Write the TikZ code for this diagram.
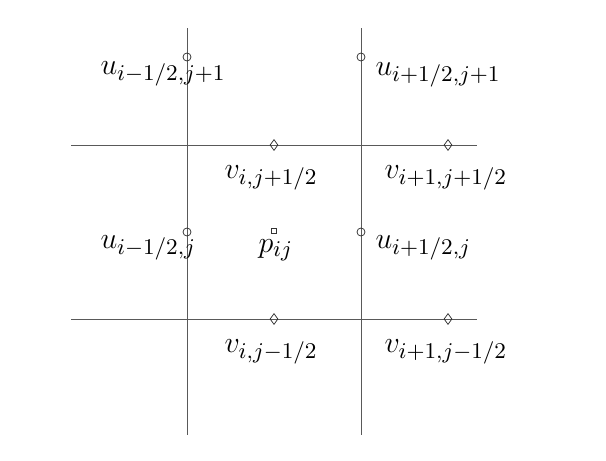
\documentclass[tikz,border=0pt]{standalone}
\usetikzlibrary{shapes.geometric}
\begin{document}
\begin{tikzpicture}[x=0.4pt,y=-0.4pt,
  gridline/.style={draw=black!65,line width=0.4pt},
  umark/.style={circle,draw=black!80,line width=0.3pt,inner sep=0pt,minimum size=3.2pt},
  vmark/.style={diamond,draw=black!80,line width=0.3pt,inner sep=0pt,minimum width=3.2pt,minimum height=4.4pt},
  pmark/.style={rectangle,draw=black!80,line width=0.3pt,inner sep=0pt,minimum size=2.2pt},
  lab/.style={anchor=base west,inner sep=0pt,font=\fontsize{13}{15}\selectfont}]
\useasboundingbox (0,0) rectangle (606,460);
% grid
\coordinate (v1t) at (187,28); \coordinate (v1b) at (187,435);
\coordinate (v2t) at (361,28); \coordinate (v2b) at (361,435);
\coordinate (h1l) at (71,145); \coordinate (h1r) at (477,145);
\coordinate (h2l) at (71,319); \coordinate (h2r) at (477,319);
\draw[gridline] (v1t) -- (v1b);
\draw[gridline] (v2t) -- (v2b);
\draw[gridline] (h1l) -- (h1r);
\draw[gridline] (h2l) -- (h2r);
% markers
\node[umark] (u1) at (187,57) {};
\node[umark] (u2) at (361,57) {};
\node[umark] (u3) at (187,232) {};
\node[umark] (u4) at (361,232) {};
\node[vmark] (d1) at (274,145) {};
\node[vmark] (d2) at (448,145) {};
\node[vmark] (d3) at (274,319) {};
\node[vmark] (d4) at (448,319) {};
\node[pmark] (p) at (274,231) {};
% labels
\node[lab] (lu1) at (100,74) {$u_{i-1/2,j+1}$};
\node[lab] (lu2) at (375,75) {$u_{i+1/2,j+1}$};
\node[lab] (lv1) at (224,178) {$v_{i,j+1/2}$};
\node[lab] (lv2) at (384,178) {$v_{i+1,j+1/2}$};
\node[lab] (lu3) at (100,248) {$u_{i-1/2,j}$};
\node[lab] (lp) at (258,252) {$p_{ij}$};
\node[lab] (lu4) at (375,248) {$u_{i+1/2,j}$};
\node[lab] (lv3) at (224,352) {$v_{i,j-1/2}$};
\node[lab] (lv4) at (384,352) {$v_{i+1,j-1/2}$};
\end{tikzpicture}
\end{document}
